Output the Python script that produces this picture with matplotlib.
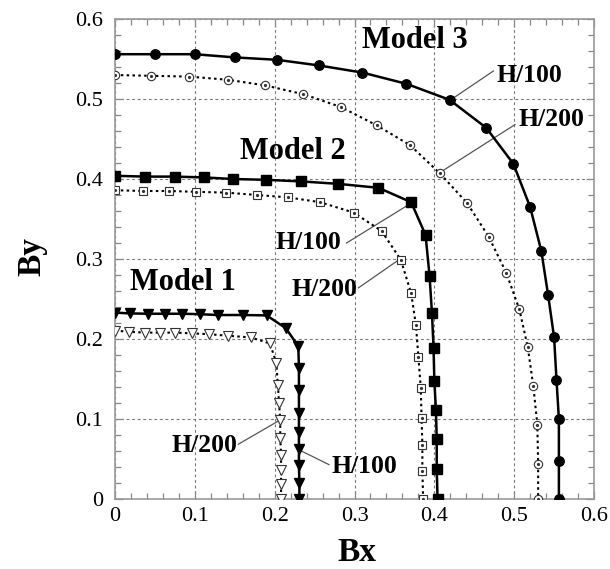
import matplotlib.pyplot as plt
from matplotlib.ticker import MultipleLocator

plt.rcParams['font.family'] = ['Liberation Serif', 'DejaVu Serif']

# Model 3
m3_h100_x = [0, 0.05, 0.1, 0.15, 0.203, 0.255, 0.31, 0.365, 0.419, 0.465, 0.499,
             0.52, 0.534, 0.5425, 0.55, 0.553, 0.556, 0.556, 0.556]
m3_h100_y = [0.556, 0.556, 0.556, 0.552, 0.549, 0.542, 0.533, 0.519, 0.499, 0.464, 0.419,
             0.365, 0.31, 0.255, 0.202, 0.149, 0.1, 0.047, 0]
m3_h200_x = [0, 0.045, 0.093, 0.142, 0.188, 0.236, 0.283, 0.328, 0.370, 0.407,
             0.441, 0.468, 0.490, 0.5065, 0.517, 0.524, 0.529, 0.530, 0.530]
m3_h200_y = [0.530, 0.529, 0.528, 0.524, 0.517, 0.506, 0.490, 0.467, 0.442, 0.407,
             0.370, 0.328, 0.283, 0.237, 0.190, 0.141, 0.093, 0.044, 0]

# Model 2
m2_h100_x = [0, 0.038, 0.075, 0.111, 0.148, 0.189, 0.233, 0.279, 0.330, 0.371,
             0.389, 0.394, 0.397, 0.399, 0.400, 0.402, 0.403, 0.403, 0.404]
m2_h100_y = [0.404, 0.403, 0.403, 0.402, 0.400, 0.399, 0.397, 0.394, 0.389, 0.371,
             0.330, 0.279, 0.233, 0.189, 0.148, 0.111, 0.075, 0.038, 0]
m2_h200_x = [0, 0.035, 0.068, 0.1015, 0.139, 0.178, 0.217, 0.257, 0.299, 0.334,
             0.358, 0.371, 0.377, 0.380, 0.383, 0.384, 0.385, 0.385, 0.386]
m2_h200_y = [0.386, 0.385, 0.385, 0.384, 0.383, 0.380, 0.377, 0.371, 0.358, 0.335,
             0.299, 0.257, 0.217, 0.178, 0.139, 0.1015, 0.068, 0.035, 0]

# Model 1
m1_h100_x = [0, 0.019, 0.041, 0.063, 0.084, 0.107, 0.129, 0.160, 0.190, 0.214,
             0.2296, 0.2304, 0.2304, 0.2304, 0.2304, 0.2304, 0.2304, 0.231, 0.231]
m1_h100_y = [0.233, 0.232, 0.2316, 0.2316, 0.2316, 0.231, 0.230, 0.230, 0.2295, 0.2135,
             0.191, 0.164, 0.136, 0.108, 0.084, 0.062, 0.042, 0.020, 0]
m1_h200_x = [0, 0.018, 0.037, 0.056, 0.075, 0.097, 0.118, 0.142, 0.170, 0.194,
             0.202, 0.204, 0.2055, 0.207, 0.207, 0.208, 0.208, 0.208, 0.208]
m1_h200_y = [0.2105, 0.209, 0.208, 0.208, 0.208, 0.207, 0.206, 0.204, 0.202, 0.1945,
             0.1705, 0.143, 0.120, 0.0985, 0.0766, 0.0556, 0.0366, 0.0185, 0]

ticks = [0, 0.1, 0.2, 0.3, 0.4, 0.5, 0.6]
tick_labels = ['0', '0.1', '0.2', '0.3', '0.4', '0.5', '0.6']

fig = plt.figure(figsize=(6.1, 5.69), dpi=100)
ax = fig.add_axes([0.1885, 0.123, 0.7853, 0.8436])

solid = dict(color='black', linestyle='-', linewidth=1.8, markeredgecolor='black', zorder=3)
dotted = dict(color='black', linestyle=(0, (1.2, 1.6)), linewidth=1.5,
              markerfacecolor='white', markeredgecolor='#333333', markeredgewidth=0.8, zorder=3)

ax.plot(m3_h100_x, m3_h100_y, marker='o', markersize=6.8, **solid)
ax.plot(m3_h200_x, m3_h200_y, marker='o', markersize=6, **dotted)
ax.plot(m2_h100_x, m2_h100_y, marker='s', markersize=6.5, **solid)
ax.plot(m2_h200_x, m2_h200_y, marker='s', markersize=5.5, **dotted)
ax.plot(m1_h100_x, m1_h100_y, marker='v', markersize=7, **solid)
ax.plot(m1_h200_x, m1_h200_y, marker='v', markersize=7, **dotted)

# small dots in the middle of the open markers
for xs, ys in [(m3_h200_x, m3_h200_y), (m2_h200_x, m2_h200_y)]:
    ax.plot(xs, ys, linestyle='none', marker='o', markersize=1.3,
            color='#333333', zorder=4)

bold = dict(fontsize=22, fontweight='bold')
ax.text(0.375, 0.573, 'Model 3', ha='center', va='center', **bold)
ax.text(0.223, 0.435, 'Model 2', ha='center', va='center', **bold)
ax.text(0.085, 0.271, 'Model 1', ha='center', va='center', **bold)

lab = dict(fontsize=18.5, fontweight='bold', va='center')
ann_line = dict(color='#555555', linewidth=0.9, zorder=2)
ax.text(0.478, 0.530, 'H/100', ha='left', **lab)
ax.plot([0.425, 0.474], [0.502, 0.535], **ann_line)
ax.text(0.505, 0.474, 'H/200', ha='left', **lab)
ax.plot([0.41, 0.501], [0.41, 0.468], **ann_line)
ax.text(0.2835, 0.321, 'H/100', ha='right', **lab)
ax.plot([0.290, 0.368], [0.320, 0.368], **ann_line)
ax.text(0.304, 0.2625, 'H/200', ha='right', **lab)
ax.plot([0.305, 0.357], [0.264, 0.300], **ann_line)
ax.text(0.1535, 0.0674, 'H/200', ha='right', **lab)
ax.plot([0.1545, 0.205], [0.0685, 0.0977], **ann_line)
ax.text(0.2706, 0.0408, 'H/100', ha='left', **lab)
ax.plot([0.268, 0.2335], [0.043, 0.060], **ann_line)

ax.set_xlim(0, 0.6)
ax.set_ylim(0, 0.6)
ax.set_xticks(ticks)
ax.set_yticks(ticks)
ax.set_xticklabels(tick_labels)
ax.set_yticklabels(tick_labels)
ax.xaxis.set_minor_locator(MultipleLocator(0.02))
ax.yaxis.set_minor_locator(MultipleLocator(0.02))
ax.tick_params(which='both', direction='in', top=True, right=True,
               color='#888888', labelsize=16, width=0.9)
ax.tick_params(which='major', length=6)
ax.tick_params(which='minor', length=4)
ax.tick_params(axis='x', which='major', pad=6)
ax.tick_params(axis='y', which='major', pad=8.5)
for s in ax.spines.values():
    s.set_color('#999999')
    s.set_linewidth(1.2)

ax.grid(True, which='major', color='#777777', linestyle=(0, (2.5, 2.5)),
        linewidth=0.8, zorder=0)
ax.set_axisbelow(True)

# axis titles placed in figure coordinates
fig.text(0.585, 0.014, 'Bx', fontsize=24, fontweight='bold',
         ha='center', va='baseline')
fig.text(0.077, 0.549, 'By', fontsize=24, fontweight='bold',
         rotation=90, ha='right', va='center')

fig.savefig('out.png', dpi=100)
